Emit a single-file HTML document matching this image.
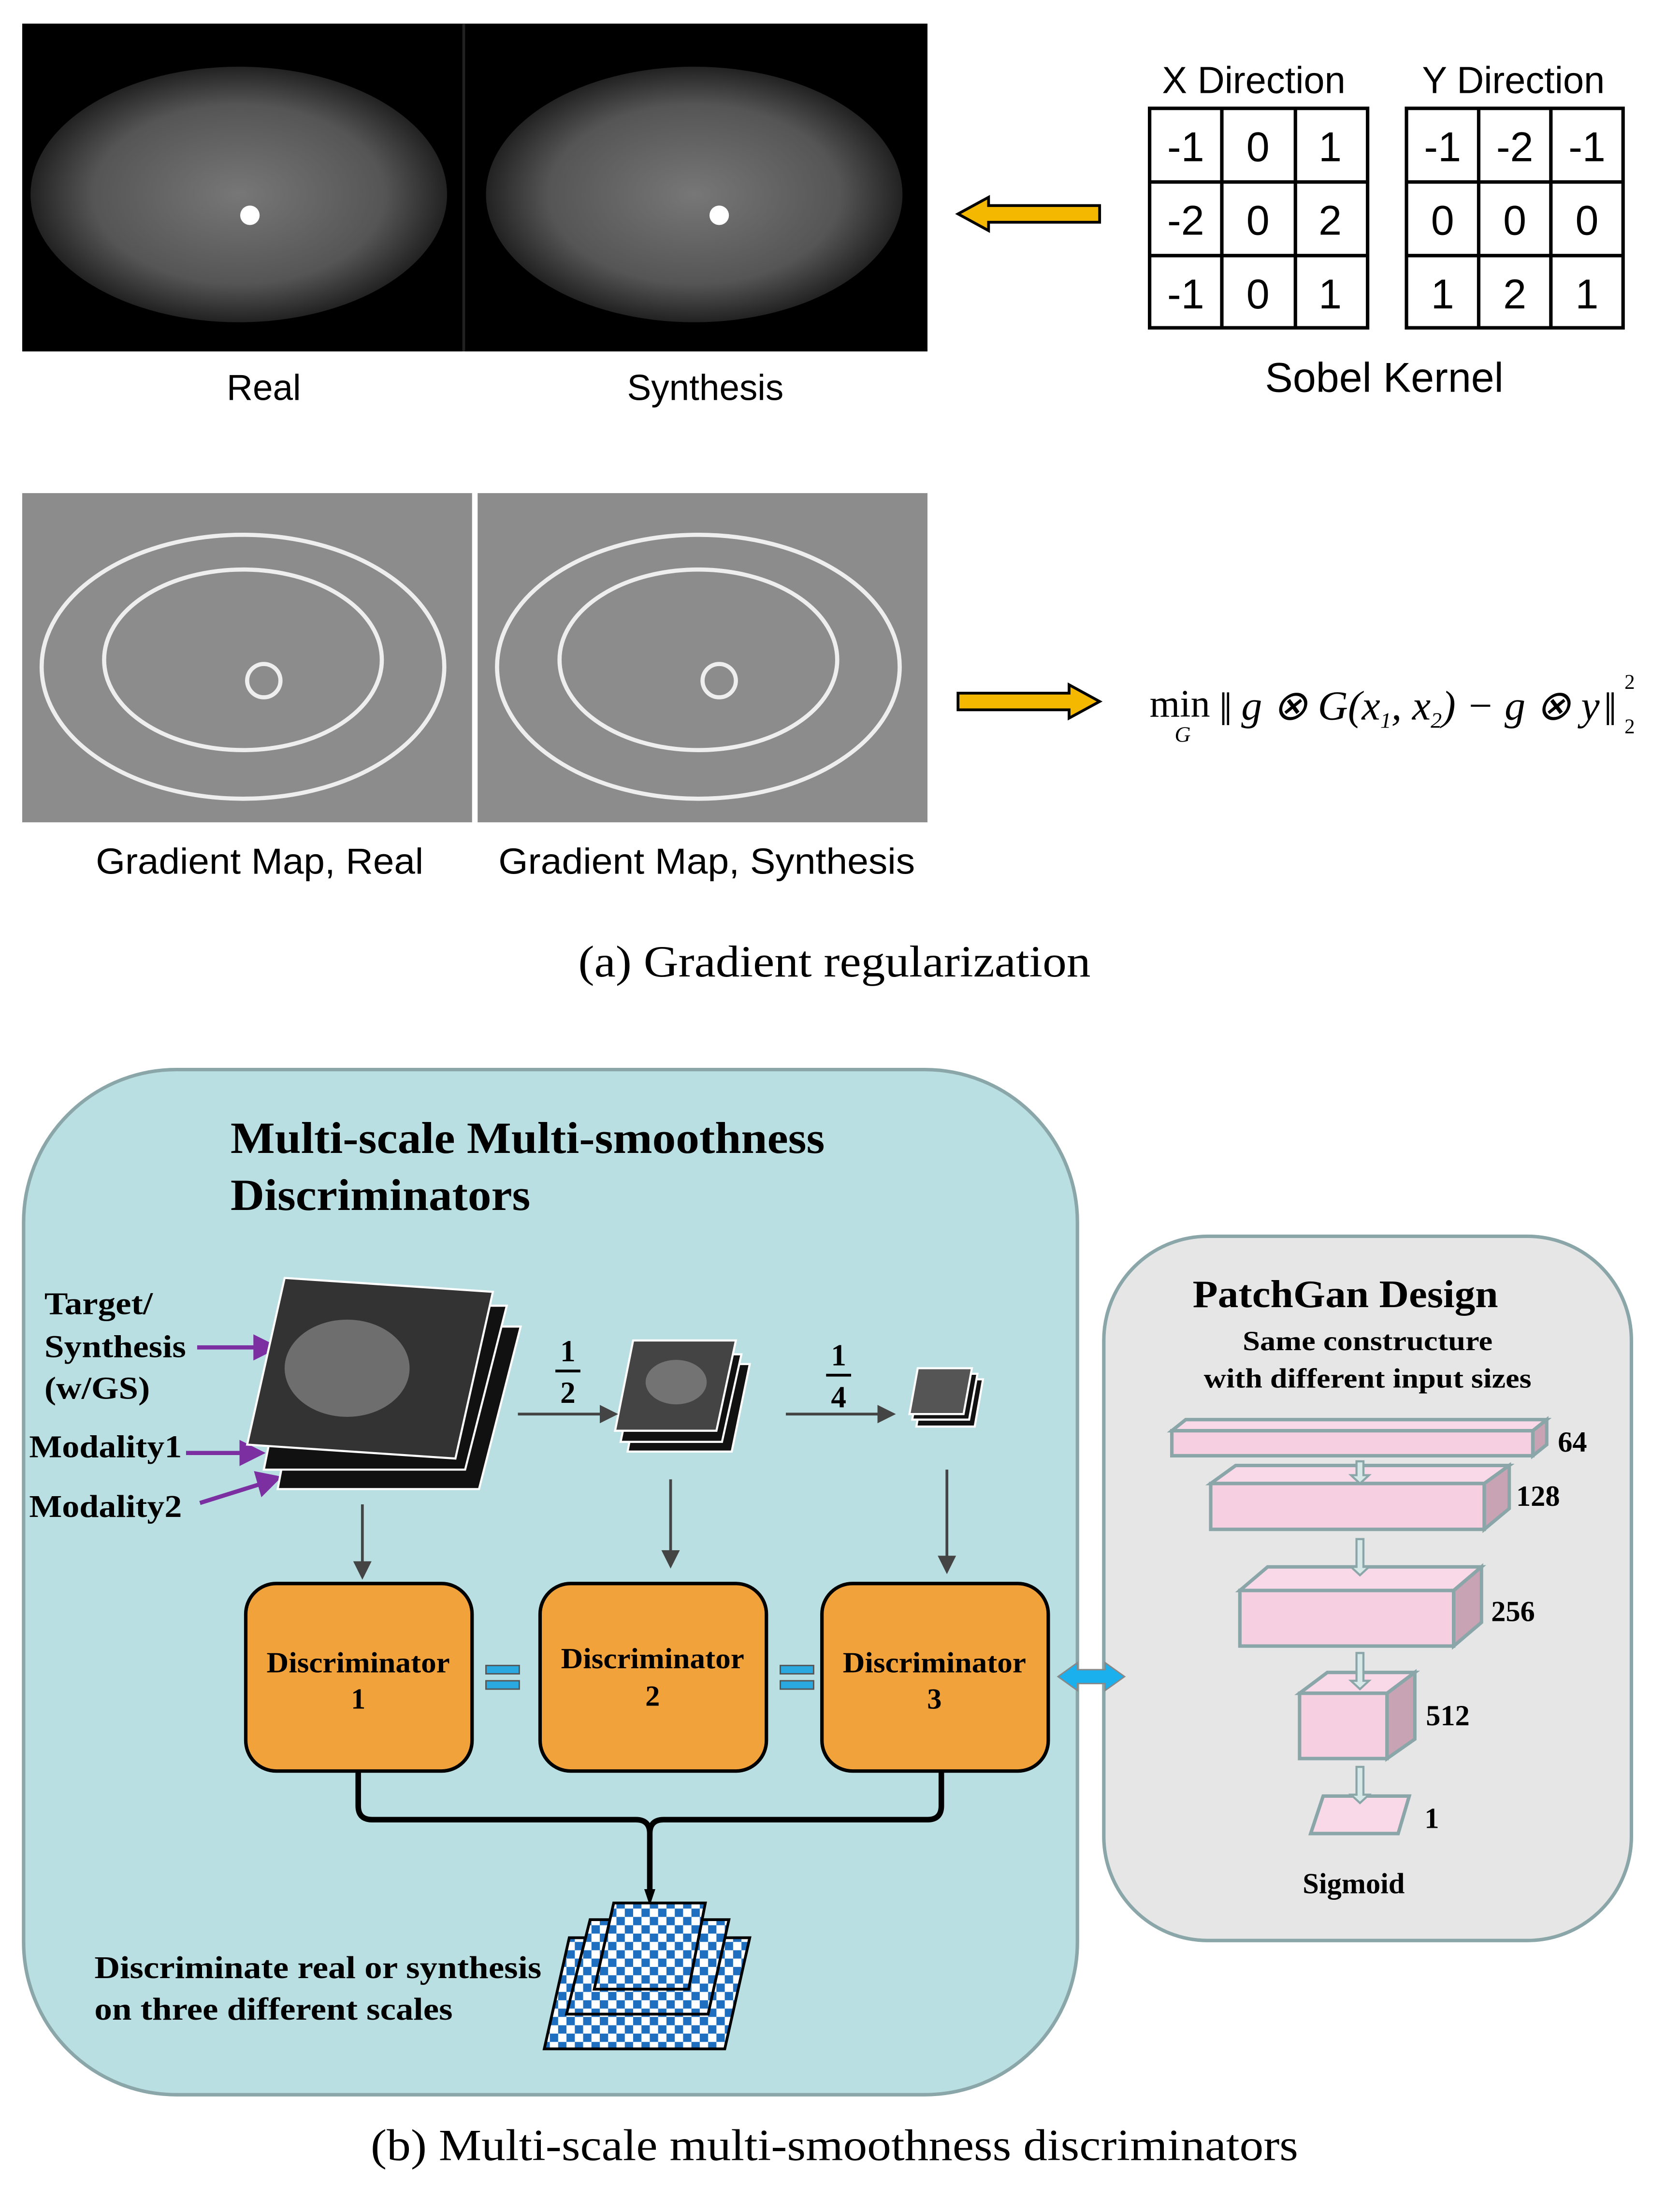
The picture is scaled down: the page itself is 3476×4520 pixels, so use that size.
<!DOCTYPE html>
<html><head><meta charset="utf-8"><style>
html,body{margin:0;padding:0;background:#fff}
svg{display:block}
.s{font-family:"Liberation Sans",sans-serif}
.r{font-family:"Liberation Serif",serif}
.b{font-family:"Liberation Serif",serif;font-weight:bold}
</style></head><body>
<svg width="3476" height="4520" viewBox="0 0 1210 1573" preserveAspectRatio="none" xmlns="http://www.w3.org/2000/svg">
<defs>
<pattern id="chk" width="12" height="12" patternUnits="userSpaceOnUse">
<rect width="12" height="12" fill="#fff"/><rect width="6" height="6" fill="#1f6fc0"/><rect x="6" y="6" width="6" height="6" fill="#1f6fc0"/>
</pattern>
<radialGradient id="mri" cx="50%" cy="50%" r="50%"><stop offset="0" stop-color="#777"/><stop offset="0.7" stop-color="#555"/><stop offset="1" stop-color="#222"/></radialGradient>
</defs>
<rect x="16" y="17" width="652" height="236" fill="#000"/>
<line x1="334" y1="17" x2="334" y2="253" stroke="#222" stroke-width="2"/>
<ellipse cx="172" cy="140" rx="150" ry="92" fill="url(#mri)"/>
<ellipse cx="500" cy="140" rx="150" ry="92" fill="url(#mri)"/>
<circle cx="180" cy="155" r="7" fill="#fff"/><circle cx="518" cy="155" r="7" fill="#fff"/>
<text x="190" y="288" class="s" font-size="26" text-anchor="middle">Real</text>
<text x="508" y="288" class="s" font-size="26" text-anchor="middle">Synthesis</text>
<text x="903" y="67" class="s" font-size="27" text-anchor="middle">X Direction</text>
<text x="1090" y="67" class="s" font-size="27" text-anchor="middle">Y Direction</text>
<g fill="none" stroke="#000" stroke-width="2.5">
<rect x="828" y="78" width="157" height="158"/><line x1="880" y1="78" x2="880" y2="236"/><line x1="933" y1="78" x2="933" y2="236"/><line x1="828" y1="131" x2="985" y2="131"/><line x1="828" y1="184" x2="985" y2="184"/>
<rect x="1013" y="78" width="156" height="158"/><line x1="1065" y1="78" x2="1065" y2="236"/><line x1="1117" y1="78" x2="1117" y2="236"/><line x1="1013" y1="131" x2="1169" y2="131"/><line x1="1013" y1="184" x2="1169" y2="184"/>
</g>
<g class="s" font-size="30" text-anchor="middle">
<text x="854" y="116">-1</text><text x="906" y="116">0</text><text x="958" y="116">1</text>
<text x="854" y="169">-2</text><text x="906" y="169">0</text><text x="958" y="169">2</text>
<text x="854" y="222">-1</text><text x="906" y="222">0</text><text x="958" y="222">1</text>
<text x="1039" y="116">-1</text><text x="1091" y="116">-2</text><text x="1143" y="116">-1</text>
<text x="1039" y="169">0</text><text x="1091" y="169">0</text><text x="1143" y="169">0</text>
<text x="1039" y="222">1</text><text x="1091" y="222">2</text><text x="1143" y="222">1</text>
</g>
<text x="997" y="282" class="s" font-size="30" text-anchor="middle">Sobel Kernel</text>
<polygon points="690,154 712,142 712,148 792,148 792,160 712,160 712,166" fill="#f5b800" stroke="#000" stroke-width="2"/>
<rect x="16" y="355" width="324" height="237" fill="#8c8c8c"/>
<rect x="344" y="355" width="324" height="237" fill="#8c8c8c"/>
<g fill="none" stroke="#eee" stroke-width="3">
<ellipse cx="175" cy="480" rx="145" ry="95"/><ellipse cx="175" cy="475" rx="100" ry="65"/><circle cx="190" cy="490" r="12"/>
<ellipse cx="503" cy="480" rx="145" ry="95"/><ellipse cx="503" cy="475" rx="100" ry="65"/><circle cx="518" cy="490" r="12"/>
</g>
<text x="187" y="629" class="s" font-size="26" text-anchor="middle" textLength="236" lengthAdjust="spacingAndGlyphs">Gradient Map, Real</text>
<text x="509" y="629" class="s" font-size="26" text-anchor="middle" textLength="300" lengthAdjust="spacingAndGlyphs">Gradient Map, Synthesis</text>
<polygon points="792,505 770,493 770,499 690,499 690,511 770,511 770,517" fill="#f5b800" stroke="#000" stroke-width="2"/>
<text x="828" y="516" class="r" font-size="28">min</text>
<text x="846" y="534" class="r" font-size="16" font-style="italic">G</text>
<text x="878" y="522" class="r" font-size="34">‖</text>
<text x="894" y="518" class="r" font-size="30" font-style="italic">g ⊗ G(x<tspan font-size="16" dy="6">1</tspan><tspan dy="-6">, x</tspan><tspan font-size="16" dy="6">2</tspan><tspan dy="-6">) − g ⊗ y</tspan></text>
<text x="1155" y="522" class="r" font-size="34">‖</text>
<text x="1170" y="496" class="r" font-size="15">2</text><text x="1170" y="528" class="r" font-size="15">2</text>
<text x="601" y="703" class="r" font-size="32" text-anchor="middle" textLength="369" lengthAdjust="spacingAndGlyphs">(a) Gradient regularization</text>
<rect x="17" y="770" width="759" height="738" rx="110" fill="#b9dfe3" stroke="#8aa6a8" stroke-width="2.5"/>
<text x="166" y="830" class="b" font-size="32" textLength="428" lengthAdjust="spacingAndGlyphs">Multi-scale Multi-smoothness</text>
<text x="166" y="871" class="b" font-size="32" textLength="216" lengthAdjust="spacingAndGlyphs">Discriminators</text>
<g class="b" font-size="23">
<text x="32" y="946" textLength="78" lengthAdjust="spacingAndGlyphs">Target/</text><text x="32" y="977" textLength="102" lengthAdjust="spacingAndGlyphs">Synthesis</text><text x="32" y="1007" textLength="76" lengthAdjust="spacingAndGlyphs">(w/GS)</text>
<text x="21" y="1049" textLength="110" lengthAdjust="spacingAndGlyphs">Modality1</text><text x="21" y="1092" textLength="110" lengthAdjust="spacingAndGlyphs">Modality2</text>
</g>
<g stroke="#7b2fa0" stroke-width="3" fill="#7b2fa0">
<line x1="142" y1="970" x2="188" y2="970"/><polygon points="198,970 184,963 184,977"/>
<line x1="134" y1="1046" x2="178" y2="1046"/><polygon points="188,1046 174,1039 174,1053"/>
<line x1="144" y1="1082" x2="192" y2="1067"/><polygon points="200,1064 185,1061 189,1075"/>
</g>
<g stroke="#fff" stroke-width="1.5">
<polygon points="222,955 375,955 345,1072 200,1072" fill="#111"/>
<polygon points="214,940 365,940 335,1058 190,1058" fill="#111"/>
<polygon points="205,920 355,930 328,1050 178,1040" fill="#333"/>
<polygon points="464,982 540,982 527,1045 452,1045" fill="#111"/>
<polygon points="460,975 534,975 520,1038 447,1038" fill="#111"/>
<polygon points="456,965 530,965 516,1030 443,1030" fill="#444"/>
<polygon points="666,993 708,993 702,1027 660,1027" fill="#111"/>
<polygon points="663,989 704,989 698,1022 657,1022" fill="#111"/>
<polygon points="661,985 700,985 694,1018 655,1018" fill="#555"/>
</g>
<ellipse cx="250" cy="985" rx="45" ry="35" fill="#888" opacity="0.7"/>
<ellipse cx="487" cy="995" rx="22" ry="16" fill="#888" opacity="0.7"/>
<g class="b" font-size="22" text-anchor="middle">
<text x="409" y="980">1</text><line x1="400" y1="987" x2="418" y2="987" stroke="#000" stroke-width="2"/><text x="409" y="1010">2</text>
<text x="604" y="983">1</text><line x1="595" y1="990" x2="613" y2="990" stroke="#000" stroke-width="2"/><text x="604" y="1013">4</text>
</g>
<g stroke="#444" stroke-width="2" fill="#444">
<line x1="373" y1="1018" x2="436" y2="1018"/><polygon points="443,1018 433,1013 433,1023"/>
<line x1="566" y1="1018" x2="636" y2="1018"/><polygon points="643,1018 633,1013 633,1023"/>
<line x1="261" y1="1083" x2="261" y2="1128"/><polygon points="261,1135 256,1125 266,1125"/>
<line x1="483" y1="1065" x2="483" y2="1120"/><polygon points="483,1127 478,1117 488,1117"/>
<line x1="682" y1="1058" x2="682" y2="1124"/><polygon points="682,1131 677,1121 687,1121"/>
</g>
<g stroke="#000" stroke-width="2.5" fill="#f2a23a">
<rect x="177" y="1140" width="163" height="135" rx="22"/>
<rect x="389" y="1140" width="163" height="135" rx="22"/>
<rect x="592" y="1140" width="163" height="135" rx="22"/>
</g>
<g class="b" font-size="21" text-anchor="middle">
<text x="258" y="1204" textLength="132" lengthAdjust="spacingAndGlyphs">Discriminator</text><text x="258" y="1230">1</text>
<text x="470" y="1201" textLength="132" lengthAdjust="spacingAndGlyphs">Discriminator</text><text x="470" y="1228">2</text>
<text x="673" y="1204" textLength="132" lengthAdjust="spacingAndGlyphs">Discriminator</text><text x="673" y="1230">3</text>
</g>
<g fill="#2aa8e0" stroke="#555" stroke-width="1">
<rect x="350" y="1199" width="24" height="6"/><rect x="350" y="1210" width="24" height="6"/>
<rect x="562" y="1199" width="24" height="6"/><rect x="562" y="1210" width="24" height="6"/>
</g>
<path d="M258,1275 V1300 Q258,1310 268,1310 H458 Q468,1310 468,1320 M678,1275 V1300 Q678,1310 668,1310 H478 Q468,1310 468,1320 V1365" fill="none" stroke="#000" stroke-width="4"/>
<polygon points="464,1360 472,1360 468,1372" fill="#000"/>
<g stroke="#000" stroke-width="2">
<polygon points="410,1395 540,1395 522,1475 392,1475" fill="url(#chk)"/>
<polygon points="425,1382 525,1382 510,1450 408,1450" fill="url(#chk)"/>
<polygon points="442,1370 508,1370 496,1432 428,1432" fill="url(#chk)"/>
</g>
<text x="68" y="1424" class="b" font-size="23" textLength="322" lengthAdjust="spacingAndGlyphs">Discriminate real or synthesis</text>
<text x="68" y="1454" class="b" font-size="23" textLength="258" lengthAdjust="spacingAndGlyphs">on three different scales</text>
<rect x="795" y="890" width="380" height="507" rx="75" fill="#e6e6e6" stroke="#8aa6a8" stroke-width="2.5"/>
<polygon points="762,1207 776,1197 776,1202 796,1202 796,1197 810,1207 796,1217 796,1212 776,1212 776,1217" fill="#1ab0ee" stroke="#888" stroke-width="1"/>
<text x="969" y="941" class="b" font-size="28" text-anchor="middle" textLength="220" lengthAdjust="spacingAndGlyphs">PatchGan Design</text>
<text x="985" y="972" class="b" font-size="20" text-anchor="middle" textLength="180" lengthAdjust="spacingAndGlyphs">Same constructure</text>
<text x="985" y="999" class="b" font-size="20" text-anchor="middle" textLength="236" lengthAdjust="spacingAndGlyphs">with different input sizes</text>
<g stroke="#8aa6a8" stroke-width="2.5">
<polygon points="844,1030 854,1022 1114,1022 1104,1030" fill="#f9d9e8"/>
<rect x="844" y="1030" width="260" height="18" fill="#f6cfe1"/>
<polygon points="1104,1030 1114,1022 1114,1040 1104,1048" fill="#c8a3b4"/>
<polygon points="872,1068 890,1055 1087,1055 1069,1068" fill="#f9d9e8"/>
<rect x="872" y="1068" width="197" height="33" fill="#f6cfe1"/>
<polygon points="1069,1068 1087,1055 1087,1086 1069,1101" fill="#c8a3b4"/>
<polygon points="893,1145 913,1128 1067,1128 1047,1145" fill="#f9d9e8"/>
<rect x="893" y="1145" width="154" height="40" fill="#f6cfe1"/>
<polygon points="1047,1145 1067,1128 1067,1168 1047,1185" fill="#c8a3b4"/>
<polygon points="936,1219 956,1204 1019,1204 999,1219" fill="#f9d9e8"/>
<rect x="936" y="1219" width="63" height="47" fill="#f6cfe1"/>
<polygon points="999,1219 1019,1204 1019,1252 999,1266" fill="#c8a3b4"/>
<polygon points="953,1293 1015,1293 1007,1320 944,1320" fill="#f9d9e8"/>
</g>
<g fill="#d7e8e8" stroke="#8aa6a8" stroke-width="1.5">
<polygon points="977,1052 982,1052 982,1062 986,1062 979.5,1068 973,1062 977,1062"/>
<polygon points="977,1108 982,1108 982,1128 986,1128 979.5,1134 973,1128 977,1128"/>
<polygon points="977,1190 982,1190 982,1210 986,1210 979.5,1216 973,1210 977,1210"/>
<polygon points="977,1272 982,1272 982,1292 986,1292 979.5,1298 973,1292 977,1292"/>
</g>
<g class="b" font-size="21">
<text x="1122" y="1045">64</text><text x="1092" y="1084">128</text><text x="1074" y="1167">256</text><text x="1027" y="1242">512</text><text x="1026" y="1316">1</text>
<text x="975" y="1363" text-anchor="middle">Sigmoid</text>
</g>
<text x="601" y="1555" class="r" font-size="32" text-anchor="middle" textLength="668" lengthAdjust="spacingAndGlyphs">(b) Multi-scale multi-smoothness discriminators</text>
</svg>
</body></html>
